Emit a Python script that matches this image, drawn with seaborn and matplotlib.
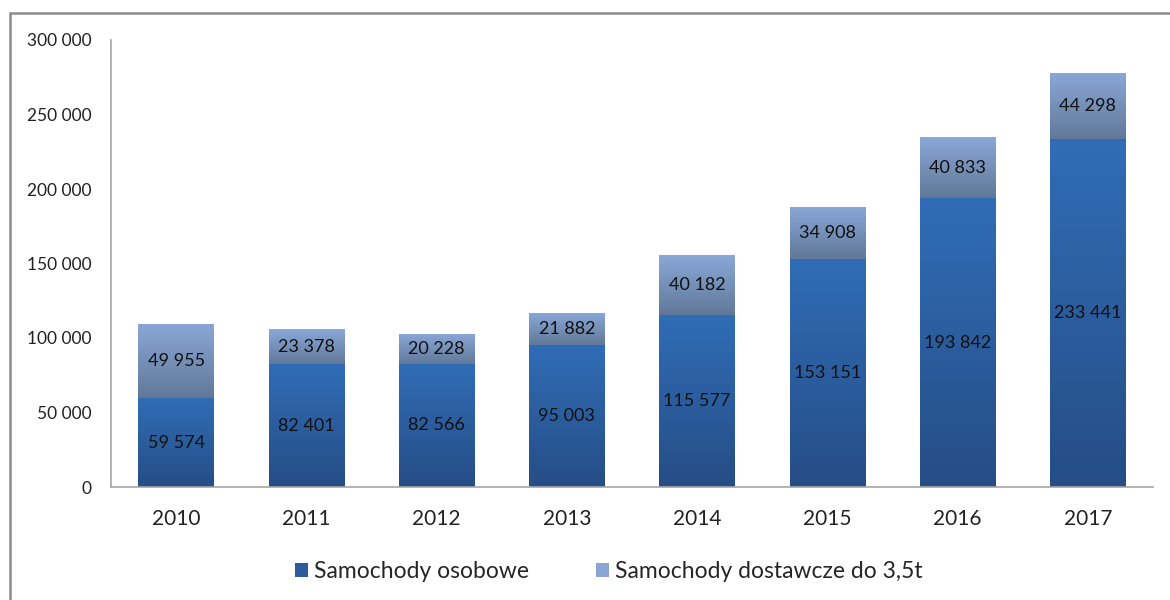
import numpy as np
import pandas as pd
import matplotlib
matplotlib.use("Agg")
import matplotlib.pyplot as plt
from matplotlib.colors import LinearSegmentedColormap
from matplotlib.patches import Rectangle, Patch
import seaborn as sns

years = ["2010", "2011", "2012", "2013", "2014", "2015", "2016", "2017"]
osobowe = [59574, 82401, 82566, 95003, 115577, 153151, 193842, 233441]
dostawcze = [49955, 23378, 20228, 21882, 40182, 34908, 40833, 44298]
yticks = [0, 50000, 100000, 150000, 200000, 250000, 300000]
label_osobowe = "Samochody osobowe"
label_dostawcze = "Samochody dostawcze do 3,5t"

sns.set_theme(style="white")
plt.rcParams["font.family"] = ["Lato", "DejaVu Sans"]

df = pd.DataFrame({"year": years, "osobowe": osobowe, "dostawcze": dostawcze})
df["total"] = df["osobowe"] + df["dostawcze"]

fig = plt.figure(figsize=(11.7, 6.0), dpi=100)
ax = fig.add_axes([111 / 1170, 1 - 487 / 600, (1153 - 111) / 1170, (487 - 40) / 600])

sns.barplot(data=df, x="year", y="total", color="#88a6d6", width=0.58, ax=ax,
            saturation=1, linewidth=0)
n_top = len(ax.patches)
sns.barplot(data=df, x="year", y="osobowe", color="#2f6bb3", width=0.58, ax=ax,
            saturation=1, linewidth=0)
patches = list(ax.patches)
top_patches = patches[:n_top]
low_patches = patches[n_top:]


def gradient_fill(patch, bottom_color, top_color, y_from=None):
    x0, w = patch.get_x(), patch.get_width()
    y0 = patch.get_y() if y_from is None else y_from
    y1 = patch.get_y() + patch.get_height()
    cmap = LinearSegmentedColormap.from_list("g", [bottom_color, top_color])
    grad = np.linspace(0, 1, 256).reshape(-1, 1)
    im = ax.imshow(grad, extent=[x0, x0 + w, y0, y1], origin="lower",
                   aspect="auto", cmap=cmap, zorder=patch.get_zorder() + 0.05,
                   interpolation="bilinear")
    im.set_clip_path(patch)


for p, base in zip(top_patches, osobowe):
    gradient_fill(p, "#617898", "#8aa8d8", y_from=base)
for p in low_patches:
    gradient_fill(p, "#264d86", "#306db6")

ax.set_xlim(-0.5, len(years) - 0.5)
ax.set_ylim(0, 300000)
ax.set_yticks(yticks)
ax.set_yticklabels([f"{v:,}".replace(",", " ") for v in yticks], fontsize=12.5, color="#222222")
ax.tick_params(axis="x", labelsize=15, colors="#222222", length=0, pad=16)
ax.tick_params(axis="y", length=0, pad=14)
for lbl in ax.get_xticklabels():
    lbl.set_color("#222222")
ax.set_xlabel("")
ax.set_ylabel("")
for s in ["top", "right"]:
    ax.spines[s].set_visible(False)
for s in ["left", "bottom"]:
    ax.spines[s].set_color("#a6a6a6")
    ax.spines[s].set_linewidth(1.2)

fmt = lambda v: f"{v:,}".replace(",", " ")
for i, (a, b) in enumerate(zip(osobowe, dostawcze)):
    ax.text(i, a / 2, fmt(a), ha="center", va="center", fontsize=13, color="#111111", zorder=10)
    ax.text(i, a + b / 2, fmt(b), ha="center", va="center", fontsize=13, color="#111111", zorder=10)

handles = [Patch(facecolor="#2c5c9c", edgecolor="none", label=label_osobowe),
           Patch(facecolor="#8aa5d4", edgecolor="none", label=label_dostawcze)]
fig.legend(handles=handles, loc="center", bbox_to_anchor=(609 / 1170, 1 - 572 / 600), ncol=2,
           frameon=False, fontsize=16.5, handlelength=0.55, handleheight=0.55,
           handletextpad=0.3, columnspacing=2.9)

fig.patches.append(Rectangle((10 / 1170, -0.1), 1.2, 1.1 - 13 / 600 + 0, transform=fig.transFigure,
                             fill=False, edgecolor="#8c8c8c", linewidth=1.8, zorder=0))

fig.savefig("out.png", dpi=100)
